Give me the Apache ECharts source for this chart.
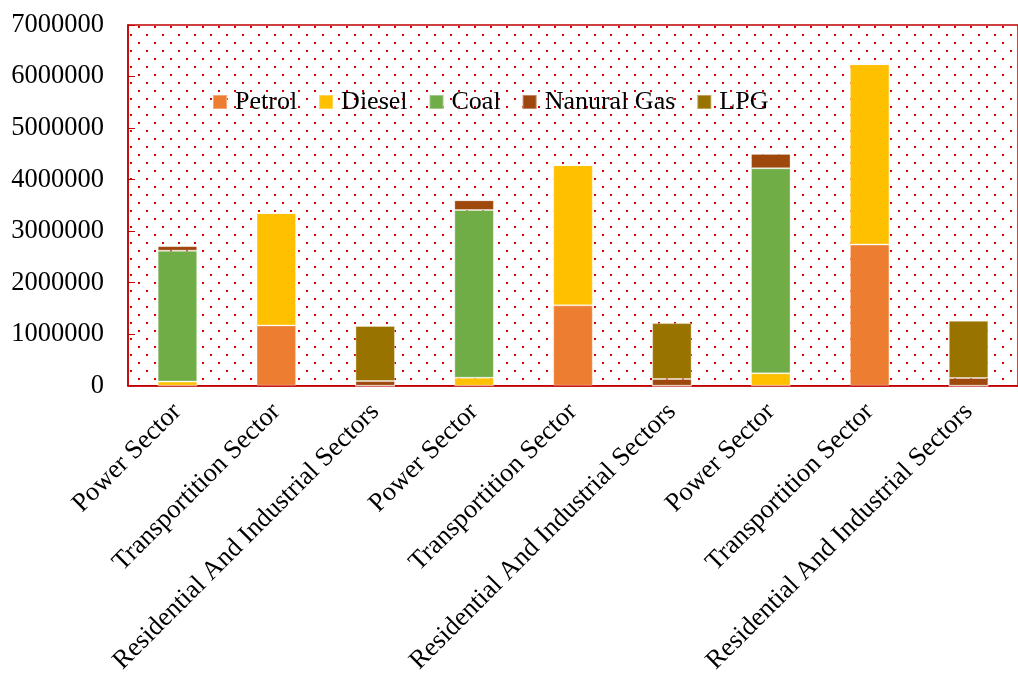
<!DOCTYPE html>
<html>
<head>
<meta charset="utf-8">
<script src="https://cdn.jsdelivr.net/npm/echarts@6/dist/echarts.min.js"></script>
<style>
  html, body { margin: 0; padding: 0; background: #fff; }
  #chart { width: 1018px; height: 677px; }
</style>
</head>
<body>
<div id="chart"></div>
<script>
// Sector categories (three groups of the same three sectors)
const categories = [
  'Power Sector', 'Transportition Sector', 'Residential And Industrial Sectors',
  'Power Sector', 'Transportition Sector', 'Residential And Industrial Sectors',
  'Power Sector', 'Transportition Sector', 'Residential And Industrial Sectors'
];

// Fuel consumption per sector
const petrol     = [0, 1170000, 0, 0, 1560000, 0, 0, 2740000, 0];
const diesel     = [80000, 2180000, 0, 155000, 2720000, 0, 240000, 3500000, 0];
const coal       = [2540000, 0, 0, 3255000, 0, 0, 3980000, 0, 0];
const naturalGas = [90000, 0, 90000, 190000, 0, 130000, 280000, 0, 150000];
const lpg        = [0, 0, 1070000, 0, 0, 1085000, 0, 0, 1110000];

const seriesNames = ['Petrol', 'Diesel', 'Coal', 'Nanural Gas', 'LPG'];
const seriesData = [petrol, diesel, coal, naturalGas, lpg];
const seriesColors = ['#ED7D31', '#FFC000', '#70AD47', '#9E480E', '#997300'];

// Dotted red fill for the plot area
function dotPattern() {
  const c = document.createElement('canvas');
  c.width = 16; c.height = 16;
  const ctx = c.getContext('2d');
  ctx.fillStyle = '#fff';
  ctx.fillRect(0, 0, 16, 16);
  ctx.fillStyle = '#D00000';
  ctx.fillRect(2, 2, 2, 2);
  ctx.fillRect(10, 10, 2, 2);
  return c;
}

const FONT = '"Liberation Serif", "Times New Roman", serif';
const AXIS_RED = '#C00000';

const chart = echarts.init(document.getElementById('chart'));
chart.setOption({
  animation: false,
  backgroundColor: '#fff',
  grid: {
    left: 128, right: 0, top: 25, bottom: 291,
    show: true,
    borderColor: AXIS_RED,
    borderWidth: 1.5,
    backgroundColor: { image: dotPattern(), repeat: 'repeat' }
  },
  legend: {
    data: seriesNames,
    left: 207, top: 84,
    icon: 'rect',
    itemWidth: 14, itemHeight: 14,
    itemGap: 21,
    textStyle: { fontFamily: FONT, fontSize: 26, color: '#000', padding: [0, 0, 0, 3] }
  },
  xAxis: {
    type: 'category',
    data: categories,
    axisLine: { lineStyle: { color: AXIS_RED, width: 1.5 } },
    axisTick: { alignWithLabel: true, length: 5, lineStyle: { color: AXIS_RED } },
    axisLabel: {
      interval: 0, rotate: 45, margin: 22,
      fontFamily: FONT, fontSize: 26.5, color: '#000'
    }
  },
  yAxis: {
    type: 'value',
    min: 0, max: 7000000, interval: 1000000,
    axisLine: { show: true, lineStyle: { color: AXIS_RED, width: 1.5 } },
    axisTick: { show: true, inside: true, length: 7, lineStyle: { color: AXIS_RED } },
    splitLine: { show: false },
    axisLabel: {
      margin: 24, fontFamily: FONT, fontSize: 26.5, color: '#000',
      formatter: v => String(v)
    }
  },
  series: seriesNames.map((name, i) => ({
    name: name,
    type: 'bar',
    stack: 'total',
    barWidth: '40%',
    data: seriesData[i],
    itemStyle: { color: seriesColors[i], borderColor: 'rgba(255,255,255,0.35)', borderWidth: 1 }
  }))
});
</script>
</body>
</html>
